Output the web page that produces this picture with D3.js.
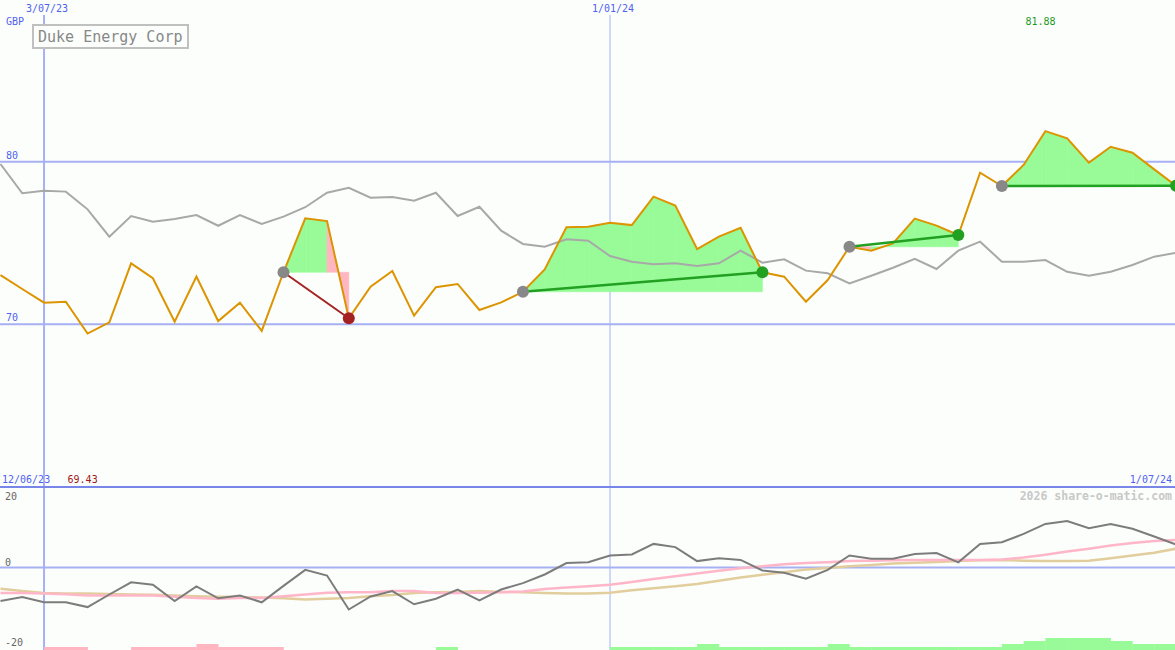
<!DOCTYPE html>
<html><head><meta charset="utf-8">
<script src="https://cdn.jsdelivr.net/npm/d3@7"></script>
<style>html,body{margin:0;padding:0;background:#fcfefc;} svg{display:block;}</style>
</head><body><svg id="c" width="1175" height="650"></svg>
<script>
const title = "Duke Energy Corp";
const currency = "GBP";
const watermark = "2026 share-o-matic.com";
const rangeLabels = ["12/06/23", "1/07/24"];
const dates = ["2023-06-19","2023-06-26","2023-07-03","2023-07-10","2023-07-17","2023-07-24","2023-07-31","2023-08-07","2023-08-14","2023-08-21",
"2023-08-28","2023-09-04","2023-09-11","2023-09-18","2023-09-25","2023-10-02","2023-10-09","2023-10-16","2023-10-23","2023-10-30",
"2023-11-06","2023-11-13","2023-11-20","2023-11-27","2023-12-04","2023-12-11","2023-12-18","2023-12-25","2024-01-01","2024-01-08",
"2024-01-15","2024-01-22","2024-01-29","2024-02-05","2024-02-12","2024-02-19","2024-02-26","2024-03-04","2024-03-11","2024-03-18",
"2024-03-25","2024-04-01","2024-04-08","2024-04-15","2024-04-22","2024-04-29","2024-05-06","2024-05-13","2024-05-20","2024-05-27",
"2024-06-03","2024-06-10","2024-06-17","2024-06-24","2024-07-01"];
const price = [73.03,72.17,71.33,71.39,69.43,70.12,73.75,72.83,70.16,72.93,
70.2,71.33,69.59,73.2,76.52,76.35,70.37,72.31,73.28,70.53,
72.28,72.48,70.88,71.35,72.0,73.38,75.97,76.0,76.25,76.1,
77.85,77.3,74.63,75.39,75.94,73.2,72.93,71.39,72.72,74.77,
74.53,74.98,76.5,76.07,75.49,79.32,78.5,79.8,81.88,81.44,
79.94,80.92,80.55,79.53,78.52];
const relative = [79.86,78.06,78.22,78.16,77.07,75.39,76.66,76.31,76.48,76.72,
76.06,76.72,76.17,76.62,77.2,78.09,78.4,77.79,77.83,77.6,
78.09,76.66,77.23,75.76,74.94,74.77,75.23,75.14,74.2,73.85,
73.69,73.75,73.59,73.75,74.53,73.79,74.0,73.3,73.14,72.52,
72.99,73.48,74.02,73.4,74.53,75.08,73.85,73.85,73.95,73.23,
72.99,73.23,73.65,74.16,74.4];
const momentum = [-8.4,-7.4,-8.7,-8.7,-9.9,-6.75,-3.7,-4.3,-8.4,-4.7,
-7.7,-7.0,-8.7,-4.6,-0.6,-2.0,-10.5,-7.25,-5.9,-9.2,
-7.8,-5.5,-8.25,-5.5,-3.9,-1.75,1.1,1.3,3.0,3.25,
5.9,5.1,1.6,2.3,1.9,-0.75,-1.3,-2.8,-0.6,3.0,
2.2,2.2,3.4,3.6,1.3,5.9,6.3,8.4,10.9,11.6,
9.8,10.9,9.7,7.75,5.75];
const avgFast = [-6.4,-6.4,-6.5,-6.7,-7.0,-7.0,-7.0,-7.0,-7.3,-7.6,
-7.8,-7.6,-7.6,-7.2,-6.75,-6.3,-6.2,-6.2,-5.9,-5.9,
-6.4,-6.4,-6.3,-6.2,-6.0,-5.4,-5.0,-4.7,-4.3,-3.6,
-2.9,-2.2,-1.5,-0.8,-0.2,0.3,0.8,1.1,1.3,1.6,
1.7,1.8,1.9,1.9,1.9,1.9,2.0,2.5,3.2,4.0,
4.7,5.5,6.1,6.6,6.9];
const avgSlow = [-5.3,-5.9,-6.4,-6.5,-6.5,-6.6,-6.75,-6.8,-7.0,-7.2,
-7.3,-7.4,-7.5,-7.7,-8.0,-7.8,-7.6,-7.2,-6.9,-6.4,
-6.2,-6.1,-5.9,-6.1,-6.2,-6.4,-6.5,-6.5,-6.3,-5.7,
-5.2,-4.7,-4.1,-3.3,-2.5,-1.8,-1.2,-0.5,-0.1,0.3,
0.6,1.0,1.2,1.4,1.6,1.8,1.9,1.7,1.6,1.6,
1.7,2.3,3.0,3.7,4.7];
const signal = [0,0,-1,-1,0,0,-1,-1,-1,-2,
-1,-1,-1,0,0,0,0,0,0,0,
1,0,0,0,0,0,0,0,1,1,
1,1,2,1,1,1,1,1,2,1,
1,1,1,1,1,1,2,3,4,4,
4,3,2,2,2];
const tradeStart = [13,24,39,46];
const tradeEnd = [16,35,44,54];
const priceTicks = [70,80];
const oscTicks = [-20,0,20];
const dateTicks = ["2023-07-03","2024-01-01"];

const W = 1175, H = 650;
const FONT = "'DejaVu Sans Mono', monospace";
const BLUE_TXT = "#5062ee", GRID = "#a6b0f2";
const svg = d3.select("#c");
const parse = d3.timeParse("%Y-%m-%d");
const D = dates.map(parse);
const x = d3.scaleTime().domain([D[0], D[D.length-1]]).range([0.5, 1176]);
const y = d3.scaleLinear().domain([70,80]).range([324.3,161.7]);
const yo = d3.scaleLinear().domain([-20,20]).range([647.5,487.5]);
const yb = d3.scaleLinear().domain([0,4]).range([650,638]);
const fmt = d3.timeFormat("%-d/%m/%y");

svg.append("rect").attr("width",W).attr("height",H).attr("fill","#fcfefc");
const defs = svg.append("defs");
defs.append("clipPath").attr("id","cm").append("rect").attr("x",0).attr("y",0).attr("width",W).attr("height",486);
defs.append("clipPath").attr("id","cl").append("rect").attr("x",0).attr("y",488.5).attr("width",W).attr("height",162);

// vertical date grid
dateTicks.forEach((d,i)=>{
  const xx = x(parse(d));
  svg.append("line").attr("x1",xx).attr("x2",xx).attr("y1",15).attr("y2",H)
    .attr("stroke",GRID).attr("stroke-width", i===0?2:1);
  svg.append("text").attr("x",xx+3).attr("y",12).attr("text-anchor","middle")
    .attr("font-family",FONT).attr("font-size",10).attr("fill",BLUE_TXT).text(fmt(parse(d)));
});

// price grid
priceTicks.forEach(t=>{
  svg.append("line").attr("x1",0).attr("x2",W).attr("y1",y(t)).attr("y2",y(t))
    .attr("stroke",GRID).attr("stroke-width",2);
  svg.append("text").attr("x",6).attr("y",y(t)-3).attr("font-family",FONT).attr("font-size",10)
    .attr("fill",BLUE_TXT).text(t);
});
svg.append("text").attr("x",6).attr("y",25).attr("font-family",FONT).attr("font-size",10)
  .attr("fill",BLUE_TXT).text(currency);

// main panel
const gm = svg.append("g").attr("clip-path","url(#cm)");
const area = d3.area().x(d=>x(D[d.i])).y0(d=>y(d.level)).y1(d=>y(price[d.i]));
tradeStart.forEach((s,t)=>{
  const e = tradeEnd[t], level = price[s];
  for (let k=s;k<e;k++){
    const col = price[k+1]>=level ? "#98fb98" : "#ffb6c1";
    gm.append("path").datum([{i:k,level},{i:k+1,level}]).attr("d",area)
      .attr("fill", col).attr("stroke", col).attr("stroke-width", 0.6);
  }
});
const lineRel = d3.line().x((d,i)=>x(D[i])).y(d=>y(d));
gm.append("path").datum(relative).attr("d",lineRel).attr("fill","none").attr("stroke","#a8a8a8").attr("stroke-width",2);
gm.append("path").datum(price).attr("d",lineRel).attr("fill","none").attr("stroke","#dc9400").attr("stroke-width",2);
tradeStart.forEach((s,t)=>{
  const e = tradeEnd[t];
  const win = price[e] >= price[s];
  const col = win ? "#22a022" : "#a52222";
  gm.append("line").attr("x1",x(D[s])).attr("y1",y(price[s])).attr("x2",x(D[e])).attr("y2",y(price[e]))
    .attr("stroke",col).attr("stroke-width", win?2.5:2);
  gm.append("circle").attr("cx",x(D[s])).attr("cy",y(price[s])).attr("r",6).attr("fill","#888");
  gm.append("circle").attr("cx",x(D[e])).attr("cy",y(price[e])).attr("r",6).attr("fill",col);
});

// title box
svg.append("rect").attr("x",33).attr("y",25).attr("width",155).attr("height",23)
  .attr("fill","#fcfefc").attr("stroke","#c0c0c0").attr("stroke-width",2);
svg.append("text").attr("x",38).attr("y",42).attr("font-family",FONT).attr("font-size",15)
  .attr("fill","#888").text(title);

// max / min labels
const maxI = d3.maxIndex(price), minI = d3.minIndex(price);
svg.append("text").attr("x",x(D[maxI])-20).attr("y",25).attr("font-family",FONT).attr("font-size",10)
  .attr("fill","#1e9a1e").text(price[maxI].toFixed(2));
svg.append("text").attr("x",x(D[minI])-20).attr("y",483).attr("font-family",FONT).attr("font-size",10)
  .attr("fill","#a01818").text(price[minI].toFixed(2));
svg.append("text").attr("x",2).attr("y",483).attr("font-family",FONT).attr("font-size",10)
  .attr("fill",BLUE_TXT).text(rangeLabels[0]);
svg.append("text").attr("x",1172).attr("y",483).attr("text-anchor","end").attr("font-family",FONT).attr("font-size",10)
  .attr("fill",BLUE_TXT).text(rangeLabels[1]);

// divider
svg.append("line").attr("x1",0).attr("x2",W).attr("y1",487).attr("y2",487).attr("stroke","#7886ea").attr("stroke-width",2);

// lower panel
const gl = svg.append("g").attr("clip-path","url(#cl)");
const step = x(D[1]) - x(D[0]);
gl.selectAll("rect.bar").data(signal.map((v,i)=>({v,i})).filter(d=>d.v!==0)).join("rect")
  .attr("x",d=>x(D[d.i])).attr("width",step+0.3)
  .attr("y",d=>yb(Math.abs(d.v))).attr("height",d=>yb(0)-yb(Math.abs(d.v)))
  .attr("fill",d=>d.v>0?"#98fb98":"#ffb6c1");
gl.append("line").attr("x1",0).attr("x2",W).attr("y1",yo(0)).attr("y2",yo(0)).attr("stroke",GRID).attr("stroke-width",2);
const lineOsc = d3.line().x((d,i)=>x(D[i])).y(d=>yo(d));
gl.append("path").datum(avgSlow).attr("d",lineOsc).attr("fill","none").attr("stroke","#e2cd9c").attr("stroke-width",2.5);
gl.append("path").datum(avgFast).attr("d",lineOsc).attr("fill","none").attr("stroke","#ffb6c8").attr("stroke-width",2.5);
gl.append("path").datum(momentum).attr("d",lineOsc).attr("fill","none").attr("stroke","#7c7c7c").attr("stroke-width",2);
oscTicks.forEach(t=>{
  const yy = Math.min(Math.max(yo(t)-1.5, 500), 646);
  svg.append("text").attr("x",5).attr("y",yy).attr("font-family",FONT).attr("font-size",10)
    .attr("fill","#666").text(t);
});
svg.append("text").attr("x",1172).attr("y",500).attr("text-anchor","end").attr("font-family",FONT)
  .attr("font-size",11.5).attr("font-weight","bold").attr("fill","#c8c8c8").text(watermark);
</script></body></html>
